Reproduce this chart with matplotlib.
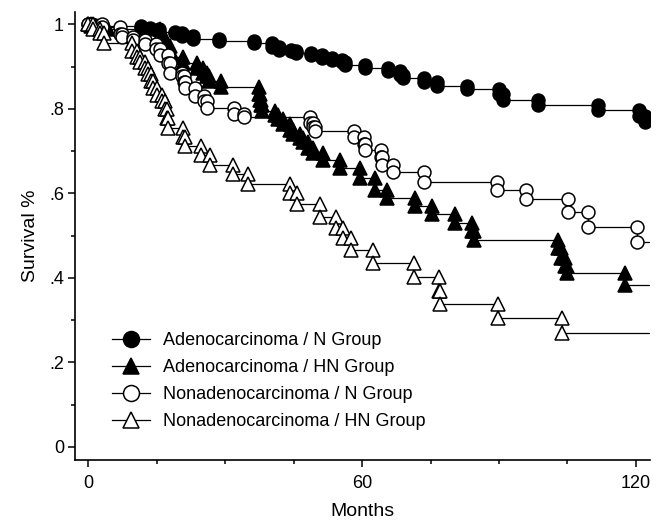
import matplotlib
matplotlib.use("Agg")
import matplotlib.pyplot as plt
from matplotlib.ticker import MultipleLocator, FixedLocator

plt.rcParams['font.family'] = ['Liberation Sans', 'DejaVu Sans']

# event times (months) and survival after each event
adeno_n_t = [0.8, 3, 11.5, 13.5, 15.5, 19, 20.5, 22.9, 28.6, 36.4, 40.2, 41.8, 44.5,
             45.6, 48.9, 51.3, 53.5, 55.5, 56.3, 60.7, 65.6, 68.3, 69.0, 73.5, 76.5,
             83.1, 90.0, 90.9, 98.5, 111.8, 120.7, 121.9]
adeno_n_s = [0.997, 0.995, 0.991, 0.988, 0.983, 0.979, 0.972, 0.965, 0.961, 0.955,
             0.947, 0.940, 0.936, 0.932, 0.927, 0.921, 0.916, 0.910, 0.904, 0.897,
             0.890, 0.879, 0.872, 0.863, 0.853, 0.846, 0.834, 0.820, 0.809, 0.797,
             0.784, 0.770]

adeno_hn_t = [0.5, 2, 4, 15.7, 16.8, 17.9, 18.3, 20.7, 23.8, 25.1, 26.0, 26.5, 29.1,
              37.4, 37.6, 37.8, 38.1, 41.0, 41.6, 42.7, 44.2, 44.9, 46.4, 47.0, 48.1,
              49.2, 51.4, 55.1, 59.5, 62.8, 65.4, 71.6, 75.3, 80.3, 84.1, 84.5, 102.9,
              103.6, 104.4, 104.9, 117.6]
adeno_hn_s = [0.997, 0.993, 0.990, 0.967, 0.948, 0.931, 0.922, 0.908, 0.896, 0.886,
              0.877, 0.867, 0.851, 0.836, 0.822, 0.808, 0.796, 0.785, 0.775, 0.763,
              0.751, 0.740, 0.730, 0.721, 0.707, 0.695, 0.678, 0.659, 0.636, 0.607,
              0.588, 0.571, 0.552, 0.531, 0.512, 0.489, 0.470, 0.446, 0.427, 0.411,
              0.383]

nonadeno_n_t = [3, 7.0, 7.3, 9.8, 12.4, 14.8, 15.7, 17.5, 17.9, 20.5, 21.0, 21.2, 23.4,
                25.4, 26.0, 31.9, 34.1, 48.6, 49.2, 49.7, 58.2, 60.4, 60.6, 64.1, 64.3,
                66.7, 73.5, 89.5, 95.9, 105.1, 109.5, 120.2]
nonadeno_n_s = [0.993, 0.978, 0.971, 0.964, 0.953, 0.941, 0.927, 0.908, 0.884, 0.877,
                0.863, 0.849, 0.830, 0.818, 0.801, 0.789, 0.780, 0.766, 0.758, 0.747,
                0.733, 0.718, 0.702, 0.685, 0.666, 0.650, 0.628, 0.607, 0.586, 0.555,
                0.520, 0.484]

nonadeno_hn_t = [1.0, 2.5, 3.5, 9.6, 10.7, 11.3, 12.4, 13.1, 13.7, 14.2, 15.1, 16.1,
                 16.8, 17.2, 17.5, 20.7, 21.2, 24.7, 26.7, 31.7, 35.0, 44.2, 45.7, 50.8,
                 54.3, 55.8, 57.5, 62.4, 71.3, 76.8, 77.1, 89.8, 103.8]
nonadeno_hn_s = [0.990, 0.980, 0.957, 0.938, 0.922, 0.910, 0.896, 0.882, 0.865, 0.849,
                 0.832, 0.818, 0.799, 0.778, 0.754, 0.733, 0.711, 0.690, 0.666, 0.645,
                 0.623, 0.600, 0.576, 0.545, 0.517, 0.494, 0.467, 0.435, 0.401, 0.370,
                 0.339, 0.304, 0.269]

end_month = 123
labels = ['Adenocarcinoma / N Group', 'Adenocarcinoma / HN Group',
          'Nonadenocarcinoma / N Group', 'Nonadenocarcinoma / HN Group']
ytick_vals = [0, 0.2, 0.4, 0.6, 0.8, 1.0]
ytick_labels = ['0', '.2', '.4', '.6', '.8', '1']
xtick_vals = [0, 60, 120]


def km_steps(times, surv):
    xs, ys = [0], [1.0]
    prev = 1.0
    for t, s in zip(times, surv):
        xs += [t, t]
        ys += [prev, s]
        prev = s
    return xs, ys


fig = plt.figure(figsize=(6.61, 5.21), dpi=100)
ax = fig.add_axes([0.1135, 0.1171, 0.8699, 0.8605])

series = [(adeno_n_t, adeno_n_s, 'o', 'black'),
          (adeno_hn_t, adeno_hn_s, '^', 'black'),
          (nonadeno_n_t, nonadeno_n_s, 'o', 'white'),
          (nonadeno_hn_t, nonadeno_hn_s, '^', 'white')]

handles = []
for (t, s, mk, fc), lab in zip(series, labels):
    xs, ys = km_steps(t, s)
    ax.plot(xs + [end_month], ys + [ys[-1]], color='black', lw=0.9, zorder=2)
    ax.plot(xs, ys, linestyle='none', marker=mk, ms=9.3 if mk == 'o' else 9.8,
            mfc=fc, mec='black', mew=1.1, zorder=3)
    h, = ax.plot([], [], color='black', lw=0.9, marker=mk,
                 ms=11.5 if mk == 'o' else 12, mfc=fc, mec='black', mew=1.1)
    handles.append(h)

ax.set_xlim(-2.9, 123.1)
ax.set_ylim(-0.031, 1.03)
ax.spines['top'].set_visible(False)
ax.spines['right'].set_visible(False)
ax.spines['left'].set_linewidth(1.2)
ax.spines['bottom'].set_linewidth(1.2)

ax.set_xticks(xtick_vals)
ax.xaxis.set_minor_locator(MultipleLocator(15))
ax.set_yticks(ytick_vals)
ax.set_yticklabels(ytick_labels)
ax.yaxis.set_minor_locator(FixedLocator([0.1, 0.3, 0.5, 0.7, 0.9]))
ax.tick_params(which='major', length=5, width=1.1, labelsize=13)
ax.tick_params(which='minor', length=2.8, width=1.1)
ax.tick_params(axis='x', which='major', pad=6)
ax.tick_params(axis='y', which='major', pad=3)

ax.set_xlabel('Months', fontsize=14, labelpad=8)
ax.set_ylabel('Survival %', fontsize=14, labelpad=7)

fig.legend(handles, labels, loc='upper left', bbox_to_anchor=(0.1694, 0.362),
           frameon=False, fontsize=13, handlelength=2.1, handletextpad=0.7,
           labelspacing=0.55, borderpad=0, borderaxespad=0)

fig.savefig('out.png', dpi=100)
